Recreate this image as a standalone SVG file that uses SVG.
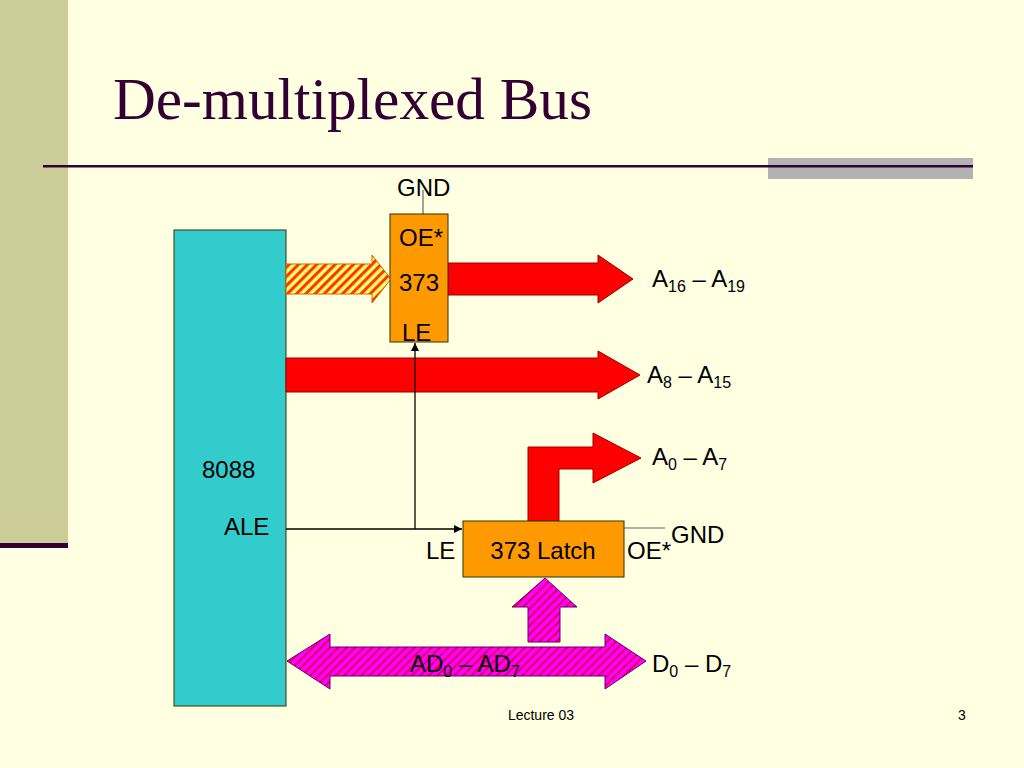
<svg xmlns="http://www.w3.org/2000/svg" width="1024" height="768" viewBox="0 0 1024 768">
<style>
.t{font-family:"Liberation Sans",Arial,sans-serif;font-size:24px;fill:#000}
.s{font-size:16px}
.ttl{font-family:"Liberation Serif","Times New Roman",serif;font-size:59px;fill:#330033}
.ft{font-family:"Liberation Sans",Arial,sans-serif;font-size:14px;fill:#000}
.red{fill:#FF0000;stroke:#990000;stroke-width:1}
.box{stroke:#333300;stroke-width:1}
.wire{stroke:#000;stroke-width:1.3;fill:none}
.gw{stroke:#666;stroke-width:1.2}
</style>
<defs>
<pattern id="hy" patternUnits="userSpaceOnUse" width="6.5" height="6.5" patternTransform="rotate(45)">
<rect width="6.5" height="6.5" fill="#FFFF66"/>
<rect width="3" height="6.5" fill="#FF3300"/>
</pattern>
<pattern id="hm" patternUnits="userSpaceOnUse" width="6" height="6" patternTransform="rotate(45)">
<rect width="6" height="6" fill="#FF00FF"/>
<rect width="2" height="6" fill="#D8005A"/>
</pattern>
<marker id="ah" viewBox="0 0 10 10" refX="10" refY="5" markerWidth="8" markerHeight="8" orient="auto" markerUnits="userSpaceOnUse">
<path d="M0,0 L10,5 L0,10 z" fill="#000"/>
</marker>
</defs>
<rect width="1024" height="768" fill="#FFFFE1"/>
<rect x="0" y="0" width="68" height="544" fill="#CCCC99"/>
<rect x="0" y="543" width="68" height="5" fill="#330033"/>
<rect x="768" y="158" width="205" height="21" fill="#B2B2B2"/>
<rect x="43" y="165" width="930" height="2.5" fill="#330033"/>
<text class="ttl" x="113" y="119" textLength="479" lengthAdjust="spacingAndGlyphs">De-multiplexed Bus</text>

<g id="n8088">
<rect class="box" x="174" y="230" width="112" height="476" fill="#33CCCC"/>
<text class="t" x="202" y="478">8088</text>
<text class="t" x="224" y="535">ALE</text>
</g>

<g id="arrows">
<path id="hatch" d="M286,264 H372 V255 L391,279 L372,303 V294 H286 Z" fill="url(#hy)" stroke="#CC6600" stroke-width="1"/>
<path id="a16" class="red" d="M448,263 H598 V255 L633,279 L598,303 V295 H448 Z"/>
<path id="a8" class="red" d="M286,358 H598 V351 L640,375 L598,399 V392 H286 Z"/>
<path id="a0" class="red" d="M528,521 V447 H593 V433 L641,458 L593,483 V469 H559 V521 Z"/>
<path id="up" d="M528,642 V607 H512 L545,578 L577,607 H560 V642 Z" fill="url(#hm)" stroke="#660066" stroke-width="1"/>
<path id="ad" d="M287,661 L330,634 V647 H605 V634 L646,661 L605,689 V676 H330 V689 Z" fill="url(#hm)" stroke="#660066" stroke-width="1"/>
</g>

<g id="n373">
<line class="gw" x1="423" y1="190" x2="423" y2="214"/>
<rect class="box" x="390" y="214" width="58" height="128" fill="#FF9900"/>
<text class="t" x="397" y="196">GND</text>
<text class="t" x="399" y="246">OE*</text>
<text class="t" x="399" y="291">373</text>
<text class="t" x="402" y="341">LE</text>
</g>

<g id="latch">
<line class="gw" x1="624" y1="528" x2="665" y2="528"/>
<rect class="box" x="463" y="521" width="161" height="56" fill="#FF9900"/>
<text class="t" x="543" y="559" text-anchor="middle">373 Latch</text>
<text class="t" x="426" y="559">LE</text>
<text class="t" x="627" y="559">OE*</text>
<text class="t" x="671" y="543">GND</text>
</g>

<g id="connectors">
<line class="wire" x1="286" y1="529" x2="462" y2="529" marker-end="url(#ah)"/>
<line class="wire" x1="415" y1="529" x2="415" y2="343" marker-end="url(#ah)"/>
</g>

<g id="labels">
<text class="t" x="652" y="287">A<tspan class="s" dy="5">16</tspan><tspan dy="-5"> – A</tspan><tspan class="s" dy="5">19</tspan></text>
<text class="t" x="647" y="383">A<tspan class="s" dy="5">8</tspan><tspan dy="-5"> – A</tspan><tspan class="s" dy="5">15</tspan></text>
<text class="t" x="652" y="465">A<tspan class="s" dy="5">0</tspan><tspan dy="-5"> – A</tspan><tspan class="s" dy="5">7</tspan></text>
<text class="t" x="652" y="672">D<tspan class="s" dy="5">0</tspan><tspan dy="-5"> – D</tspan><tspan class="s" dy="5">7</tspan></text>
<text class="t" x="410" y="672">AD<tspan class="s" dy="5">0</tspan><tspan dy="-5"> – AD</tspan><tspan class="s" dy="5">7</tspan></text>
</g>

<text class="ft" x="541" y="720" text-anchor="middle">Lecture 03</text>
<text class="ft" x="958" y="720">3</text>
</svg>
